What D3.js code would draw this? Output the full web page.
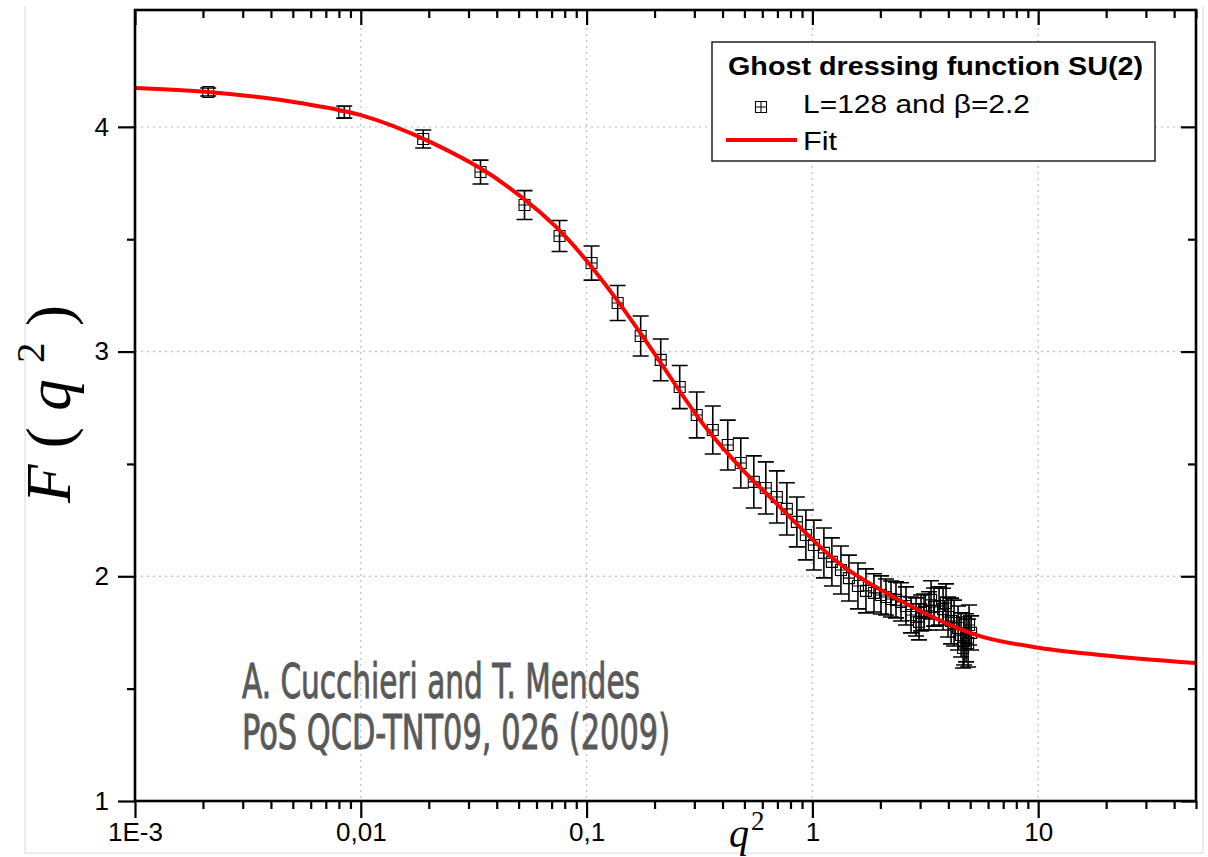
<!DOCTYPE html>
<html>
<head>
<meta charset="utf-8">
<script src="https://d3js.org/d3.v7.min.js"></script>
<style>
  body { margin: 0; background: #fff; }
  svg { display: block; }
</style>
</head>
<body>
<script>
// lattice points: q^2, F(q^2) and error
const q2 = [0.00211, 0.00845, 0.0189, 0.0339, 0.0531, 0.0759, 0.1052, 0.1373, 0.1736, 0.2130,
    0.2585, 0.3075, 0.3621, 0.4219, 0.4818, 0.5503, 0.6219, 0.6961, 0.7707, 0.8537,
    0.9358, 1.0155, 1.1246, 1.2201, 1.338, 1.4516, 1.5913, 1.7271, 1.8741, 2.0131,
    2.118, 2.2291, 2.3459, 2.4691, 2.5976, 2.7337, 2.8774, 3.0283, 3.1227, 3.2862,
    3.4582, 3.6392, 3.7906, 3.9902, 4.1141, 4.2419, 4.418, 4.5553, 4.6968, 4.893,
    5.0451, 3.354, 3.908, 4.650, 4.794, 4.943, 2.967];
const F = [4.155, 4.066, 3.946, 3.799, 3.652, 3.514, 3.394, 3.216, 3.069, 2.963,
    2.842, 2.718, 2.651, 2.584, 2.504, 2.420, 2.393, 2.353, 2.300, 2.242,
    2.184, 2.139, 2.104, 2.064, 2.028, 1.992, 1.957, 1.935, 1.926, 1.917,
    1.908, 1.899, 1.895, 1.886, 1.868, 1.828, 1.819, 1.837, 1.841, 1.846,
    1.863, 1.868, 1.854, 1.819, 1.801, 1.792, 1.770, 1.739, 1.712, 1.703,
    1.748, 1.895, 1.881, 1.681, 1.726, 1.783, 1.797];
const err = [0.018, 0.027, 0.040, 0.053, 0.064, 0.069, 0.076, 0.078, 0.089, 0.093,
    0.096, 0.102, 0.107, 0.111, 0.111, 0.116, 0.116, 0.116, 0.116, 0.111,
    0.111, 0.111, 0.111, 0.107, 0.107, 0.102, 0.102, 0.098, 0.085, 0.085,
    0.080, 0.080, 0.080, 0.085, 0.085, 0.080, 0.085, 0.080, 0.080, 0.085,
    0.085, 0.085, 0.093, 0.089, 0.102, 0.102, 0.098, 0.098, 0.107, 0.107,
    0.076, 0.085, 0.085, 0.089, 0.107, 0.089, 0.080];

// fit curve, points
const fitQ2 = [0.001, 0.002105, 0.005378, 0.00992, 0.02025, 0.04135, 0.08187, 0.1364, 0.1909,
    0.3413, 0.478, 0.6692, 1.325, 2.519, 5.524, 10.19, 18.78, 50];
const fitF = [4.173, 4.155, 4.106, 4.053, 3.933, 3.759, 3.505, 3.229, 3.020,
    2.655, 2.486, 2.339, 2.055, 1.886, 1.734, 1.681, 1.650, 1.614];

// ticks
const xMajor = [0.001, 0.01, 0.1, 1, 10];
const xLabels = ["1E-3", "0,01", "0,1", "1", "10"];
const yMajor = [1, 2, 3, 4];
const yMinor = [1.5, 2.5, 3.5];

const width = 1208, height = 857;
const pLeft = 135, pRight = 1196, pTop = 10, pBottom = 801;

let xMinor = [];
for (let d = 0.001; d < 50; d *= 10) {
    for (let k = 2; k <= 9; k++) {
        if (k * d <= 50) xMinor.push(+(k * d).toPrecision(3));
    }
}

const svg = d3.select("body").append("svg")
    .attr("width", width)
    .attr("height", height);

// faint outer frame
svg.append("path")
    .attr("d", "M25,6 L25,853 L1203,853 L1203,6")
    .attr("fill", "none")
    .attr("stroke", "#e6e6e6")
    .attr("stroke-width", 1.5);

let xscale = d3.scaleLog().domain([1e-3, 50]).range([pLeft, pRight]);
let yscale = d3.scaleLinear().domain([1, 4.52]).range([pBottom, pTop]);

// grid
let grid = svg.append("g").attr("class", "grid")
    .attr("stroke", "#c4c4c4")
    .attr("stroke-width", 1.4)
    .attr("stroke-dasharray", "2,4");
grid.selectAll(".gx").data(xMajor.slice(1)).join("line")
    .attr("class", "gx")
    .attr("x1", d => xscale(d)).attr("x2", d => xscale(d))
    .attr("y1", pTop).attr("y2", pBottom);
grid.selectAll(".gy").data(yMajor.slice(1)).join("line")
    .attr("class", "gy")
    .attr("x1", pLeft).attr("x2", pRight)
    .attr("y1", d => yscale(d)).attr("y2", d => yscale(d));

// citation text
const cite = svg.append("g")
    .attr("fill", "#595959")
    .attr("stroke", "#595959")
    .attr("stroke-width", 0.9)
    .style("font-family", "'DejaVu Sans Condensed', 'DejaVu Sans'")
    .style("font-stretch", "condensed")
    .style("font-size", "48px");
cite.append("text").attr("x", 242).attr("y", 698)
    .attr("textLength", 398).attr("lengthAdjust", "spacingAndGlyphs")
    .text("A. Cucchieri and T. Mendes");
cite.append("text").attr("x", 242).attr("y", 749)
    .attr("textLength", 428).attr("lengthAdjust", "spacingAndGlyphs")
    .text("PoS QCD-TNT09, 026 (2009)");

// data with error bars
const pts = q2.map((q, i) => ({ q: q, f: F[i], e: err[i] }));
const capW = 8, half = 5.5;
let marks = svg.append("g")
    .attr("stroke", "#000")
    .attr("fill", "none");
marks.selectAll(".eb").data(pts).join("path")
    .attr("class", "eb")
    .attr("stroke-width", 1.6)
    .attr("d", d => {
        const x = xscale(d.q), y1 = yscale(d.f + d.e), y2 = yscale(d.f - d.e);
        return `M${x},${y1}V${y2}M${x - capW},${y1}H${x + capW}M${x - capW},${y2}H${x + capW}`;
    });
marks.selectAll(".sym").data(pts).join("path")
    .attr("class", "sym")
    .attr("stroke-width", 1.1)
    .attr("d", d => {
        const x = xscale(d.q), y = yscale(d.f);
        return `M${x - half},${y - half}h${2 * half}v${2 * half}h${-2 * half}ZM${x - half},${y}h${2 * half}`;
    });

// fit curve
const fitLine = d3.line()
    .x(d => xscale(d[0]))
    .y(d => yscale(d[1]))
    .curve(d3.curveMonotoneX);
svg.append("path")
    .datum(fitQ2.map((q, i) => [q, fitF[i]]))
    .attr("fill", "none")
    .attr("stroke", "#ff0000")
    .attr("stroke-width", 4)
    .attr("d", fitLine);

// axes
const tickStyle = g => {
    g.select(".domain").remove();
    g.selectAll(".tick line").attr("stroke", "#000").attr("stroke-width", 2.2);
    g.selectAll(".tick text").attr("fill", "#000")
        .style("font-family", "'Liberation Sans', Arial, sans-serif")
        .style("font-size", "26px");
};
svg.append("g").attr("transform", `translate(0,${pBottom})`)
    .call(d3.axisBottom(xscale).tickValues(xMajor).tickSize(17).tickPadding(5)
        .tickFormat((d, i) => xLabels[i]))
    .call(tickStyle);
svg.append("g").attr("transform", `translate(0,${pBottom})`)
    .call(d3.axisBottom(xscale).tickValues(xMinor).tickSize(8).tickFormat(""))
    .call(tickStyle);
svg.append("g").attr("transform", `translate(${pLeft},0)`)
    .call(d3.axisLeft(yscale).tickValues(yMajor).tickSize(17).tickPadding(9).tickFormat(d3.format("d")))
    .call(tickStyle);
svg.append("g").attr("transform", `translate(${pLeft},0)`)
    .call(d3.axisLeft(yscale).tickValues(yMinor).tickSize(8).tickFormat(""))
    .call(tickStyle);
// mirrored inward ticks
svg.append("g").attr("transform", `translate(0,${pTop})`)
    .call(d3.axisBottom(xscale).tickValues(xMajor).tickSize(15).tickFormat(""))
    .call(tickStyle);
svg.append("g").attr("transform", `translate(0,${pTop})`)
    .call(d3.axisBottom(xscale).tickValues(xMinor).tickSize(8).tickFormat(""))
    .call(tickStyle);
svg.append("g").attr("transform", `translate(${pRight},0)`)
    .call(d3.axisLeft(yscale).tickValues(yMajor).tickSize(15).tickFormat(""))
    .call(tickStyle);
svg.append("g").attr("transform", `translate(${pRight},0)`)
    .call(d3.axisLeft(yscale).tickValues(yMinor).tickSize(8).tickFormat(""))
    .call(tickStyle);

svg.append("rect")
    .attr("x", pLeft).attr("y", pTop)
    .attr("width", pRight - pLeft).attr("height", pBottom - pTop)
    .attr("fill", "none")
    .attr("stroke", "#000")
    .attr("stroke-width", 2.6);

// axis titles
const mathFont = "'Liberation Serif', 'DejaVu Serif', serif";
let xt = svg.append("text")
    .attr("x", 729).attr("y", 847)
    .style("font-family", mathFont)
    .style("font-size", "40px");
xt.append("tspan").style("font-style", "italic").text("q");
xt.append("tspan").attr("dx", 2).attr("dy", -17).style("font-size", "27px").text("2");

let yt = svg.append("text")
    .attr("transform", "translate(70,503) rotate(-90)")
    .attr("textLength", 198).attr("lengthAdjust", "spacing")
    .style("font-family", mathFont)
    .style("font-size", "63px");
yt.append("tspan").style("font-style", "italic").text("F");
yt.append("tspan").text("(");
yt.append("tspan").style("font-style", "italic").text("q");
yt.append("tspan").attr("dy", -26).style("font-size", "41px").text("2");
yt.append("tspan").attr("dy", 26).text(")");

// legend
let legend = svg.append("g");
legend.append("rect")
    .attr("x", 712).attr("y", 42)
    .attr("width", 443).attr("height", 119)
    .attr("fill", "#fff")
    .attr("stroke", "#222")
    .attr("stroke-width", 1.5);
legend.append("text")
    .attr("x", 728).attr("y", 75)
    .attr("textLength", 415).attr("lengthAdjust", "spacingAndGlyphs")
    .style("font-family", "'Liberation Sans', Arial, sans-serif")
    .style("font-weight", "bold")
    .style("font-size", "25px")
    .text("Ghost dressing function SU(2)");
legend.append("path")
    .attr("d", "M755.5,101.5h11v11h-11ZM755.5,107h11M761,101.5v11")
    .attr("fill", "none").attr("stroke", "#000").attr("stroke-width", 1.1);
legend.append("text")
    .attr("x", 803).attr("y", 113)
    .attr("textLength", 227).attr("lengthAdjust", "spacingAndGlyphs")
    .style("font-family", "'Liberation Sans', Arial, sans-serif")
    .style("font-size", "25px")
    .text("L=128 and β=2.2");
legend.append("line")
    .attr("x1", 726).attr("x2", 797)
    .attr("y1", 140).attr("y2", 140)
    .attr("stroke", "#ff0000").attr("stroke-width", 4);
legend.append("text")
    .attr("x", 803).attr("y", 150)
    .attr("textLength", 34).attr("lengthAdjust", "spacingAndGlyphs")
    .style("font-family", "'Liberation Sans', Arial, sans-serif")
    .style("font-size", "25px")
    .text("Fit");
</script>
</body>
</html>
